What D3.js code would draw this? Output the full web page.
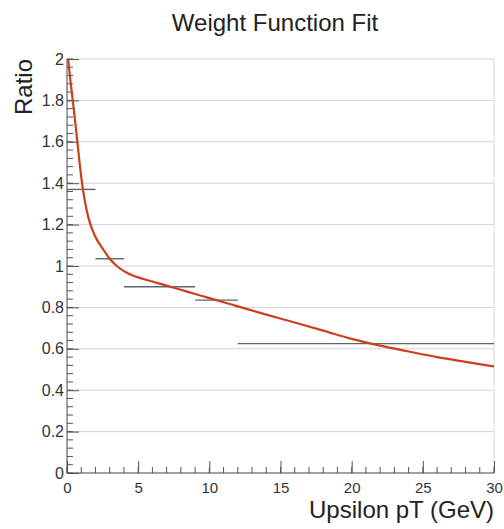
<!DOCTYPE html>
<html>
<head>
<meta charset="utf-8">
<script src="https://cdn.jsdelivr.net/npm/d3@7/dist/d3.min.js"></script>
<style>
  html, body { margin: 0; padding: 0; background: #fff; }
  svg { display: block; font-family: "Liberation Sans", Arial, Helvetica, sans-serif; }
</style>
</head>
<body>
<svg id="chart" width="504" height="529"></svg>
<script>
// ---- Data ----
const binLow  = [0, 2, 4, 9, 12];
const binHigh = [2, 4, 9, 12, 30];
const binValue = [1.37, 1.035, 0.90, 0.835, 0.625];

const fitX = [0.08, 0.25, 0.5, 0.75, 1.0, 1.25, 1.5, 1.75, 2.0, 2.5, 3.0, 3.5, 4.0, 4.5, 5, 6, 7, 8, 9, 10, 11, 12, 14, 16, 18, 20, 22, 24, 26, 28, 30];
const fitY = [2.0, 1.89, 1.745, 1.585, 1.43, 1.315, 1.235, 1.18, 1.14, 1.085, 1.035, 1.0, 0.975, 0.958, 0.945, 0.925, 0.905, 0.885, 0.865, 0.845, 0.825, 0.805, 0.765, 0.727, 0.688, 0.648, 0.615, 0.587, 0.56, 0.537, 0.515];

const xTickMajor = [0, 5, 10, 15, 20, 25, 30];
const yTickMajor = [0, 0.2, 0.4, 0.6, 0.8, 1, 1.2, 1.4, 1.6, 1.8, 2];
const yTickLabels = ["0", "0.2", "0.4", "0.6", "0.8", "1", "1.2", "1.4", "1.6", "1.8", "2"];

const titleText = "Weight Function Fit";
const xLabelText = "Upsilon pT (GeV)";
const yLabelText = "Ratio";

(function () {
// ---- Layout ----
const svg = d3.select("#chart");
const pLeft = 67, pRight = 494, pTop = 59, pBottom = 473;

const x = d3.scaleLinear().domain([0, 30]).range([pLeft, pRight]);
const y = d3.scaleLinear().domain([0, 2]).range([pBottom, pTop]);

// grid lines (horizontal)
svg.append("g").selectAll("line").data(yTickMajor.filter(v => v > 0)).join("line")
  .attr("x1", pLeft).attr("x2", pRight)
  .attr("y1", d => y(d)).attr("y2", d => y(d))
  .attr("stroke", "#d4d4d4").attr("stroke-width", 1);
// right edge grid
svg.append("line")
  .attr("x1", x(30)).attr("x2", x(30)).attr("y1", pTop).attr("y2", pBottom)
  .attr("stroke", "#d8d8d8").attr("stroke-width", 1);

// axes
const xMinor = d3.range(0, 31, 1);
const yMinor = d3.range(0, 2.0001, 0.04);

const xAxis = d3.axisBottom(x).tickValues(xTickMajor).tickSize(-12).tickPadding(9).tickFormat(d3.format("d"));
const gx = svg.append("g").attr("transform", `translate(0,${pBottom})`).call(xAxis);
gx.select(".domain").remove();
gx.selectAll(".tick line").attr("stroke", "#555");
gx.selectAll(".tick text").attr("font-size", "15px").attr("fill", "#333").attr("font-family", "Liberation Sans, Arial, sans-serif");
svg.append("g").selectAll("line").data(xMinor).join("line")
  .attr("x1", d => x(d)).attr("x2", d => x(d))
  .attr("y1", pBottom).attr("y2", pBottom - 6)
  .attr("stroke", "#555");

const yAxis = d3.axisLeft(y).tickValues(yTickMajor).tickSize(-12).tickPadding(3)
  .tickFormat((d, i) => yTickLabels[i]);
const gy = svg.append("g").attr("transform", `translate(${pLeft},0)`).call(yAxis);
gy.select(".domain").remove();
gy.selectAll(".tick line").attr("stroke", "#555");
gy.selectAll(".tick text").attr("font-size", "16px").attr("fill", "#333").attr("font-family", "Liberation Sans, Arial, sans-serif");
svg.append("g").selectAll("line").data(yMinor).join("line")
  .attr("x1", pLeft).attr("x2", pLeft + 6)
  .attr("y1", d => y(d)).attr("y2", d => y(d))
  .attr("stroke", "#555");

// axis lines
svg.append("line").attr("x1", pLeft).attr("x2", pRight).attr("y1", pBottom).attr("y2", pBottom).attr("stroke", "#444");
svg.append("line").attr("x1", pLeft).attr("x2", pLeft).attr("y1", pTop).attr("y2", pBottom).attr("stroke", "#444");

// histogram bins (horizontal lines)
svg.append("g").selectAll("line").data(binValue).join("line")
  .attr("x1", (d, i) => x(binLow[i])).attr("x2", (d, i) => x(binHigh[i]))
  .attr("y1", d => y(d)).attr("y2", d => y(d))
  .attr("stroke", "#5c6470").attr("stroke-width", 1.4);

// fit curve
const line = d3.line().x(d => x(d[0])).y(d => y(d[1])).curve(d3.curveMonotoneX);
svg.append("path")
  .datum(fitX.map((v, i) => [v, fitY[i]]))
  .attr("d", line)
  .attr("fill", "none")
  .attr("stroke", "#cc3f1c").attr("stroke-width", 2.2);

// titles
svg.append("text").attr("x", 275).attr("y", 31).attr("text-anchor", "middle")
  .attr("font-size", "24px").attr("fill", "#222").text(titleText);
svg.append("text").attr("x", pRight).attr("y", 518).attr("text-anchor", "end")
  .attr("font-size", "24px").attr("fill", "#222").text(xLabelText);
svg.append("text").attr("transform", `translate(32,${pTop}) rotate(-90)`).attr("text-anchor", "end")
  .attr("font-size", "24px").attr("fill", "#222").text(yLabelText);
})();
</script>
</body>
</html>
